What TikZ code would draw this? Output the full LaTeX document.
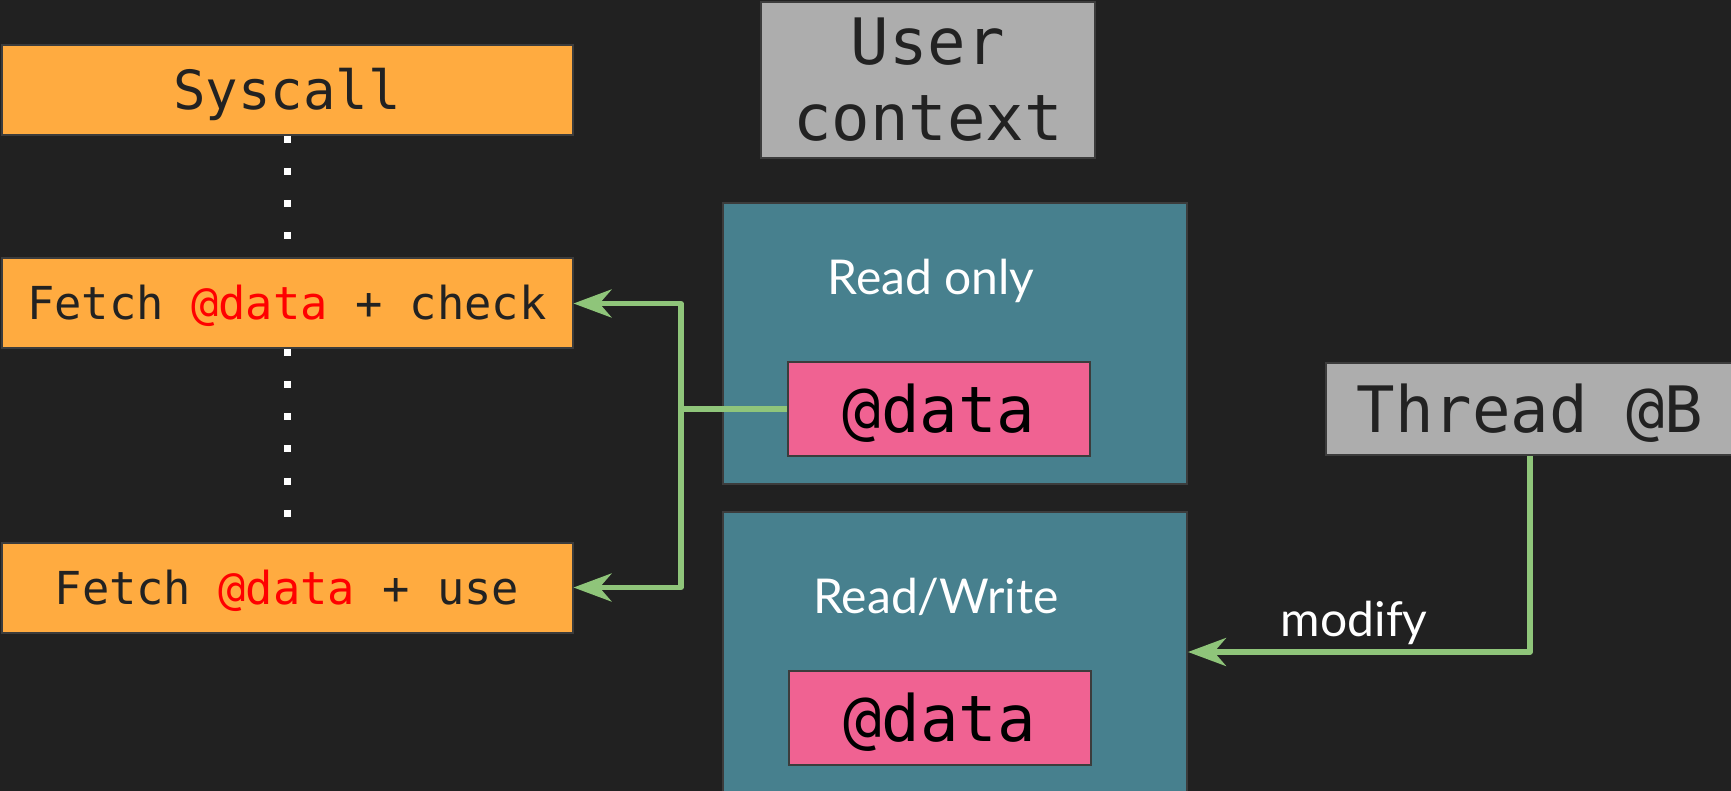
\documentclass[tikz,border=0pt]{standalone}
\usepackage{fontspec}
\setmainfont{Lato}
\newfontfamily\codefont{DejaVu Sans Mono}
\usetikzlibrary{arrows.meta}

\definecolor{bg}{HTML}{212121}
\definecolor{edge}{HTML}{3C3C3C}
\definecolor{ink}{HTML}{222222}
\definecolor{syscol}{HTML}{FFAB40}
\definecolor{ctxcol}{HTML}{ADADAD}
\definecolor{memcol}{HTML}{47808E}
\definecolor{varcol}{HTML}{F06292}
\definecolor{flow}{HTML}{8FC57A}
\definecolor{hot}{HTML}{FF0000}

\tikzset{
  box/.style={draw=edge, line width=1pt, inner sep=0pt, text=ink},
  callbox/.style={box, fill=syscol, minimum width=285.5pt, minimum height=45pt},
  smallcode/.style={font=\codefont\fontsize{22.7}{27}\selectfont, text height=16.5pt, text depth=0pt},
  bigcode/.style={font=\codefont\fontsize{32}{38}\selectfont, text height=23.3pt, text depth=0pt},
  ctxbox/.style={box, fill=ctxcol},
  membox/.style={box, fill=memcol, minimum width=232pt, minimum height=140pt},
  varbox/.style={box, fill=varcol, text=black, minimum width=151pt, minimum height=47pt, bigcode},
  labelfont/.style={text=white, font=\fontsize{24}{29}\selectfont},
  memlabel/.style={labelfont, anchor=base},
  dots/.style={draw=white, line width=3.5pt, dash pattern=on 3.5pt off 12.5pt, shorten >=2pt},
  wire/.style={draw=flow, line width=2.6pt, line join=round},
  flowline/.style={wire, -{Stealth[length=19pt, width=14pt, inset=6pt]}},
}

\begin{document}
\begin{tikzpicture}[x=0.5pt, y=-0.5pt]
  \fill[bg] (0,0) rectangle (1731,791);
  \useasboundingbox (0,0) rectangle (1731,791);

  % kernel side: the syscall and its two fetches
  \node[callbox, smallcode, font=\codefont\fontsize{27}{32}\selectfont, text height=19.7pt] (sys) at (287,90) {Syscall};
  \node[callbox, smallcode] (chk) at (287,303.5) {Fetch \textcolor{hot}{@data} + check};
  \node[callbox, smallcode] (use) at (287,587.5) {Fetch \textcolor{hot}{@data} + use};

  \draw[dots] (sys.south) -- (chk.north);
  \draw[dots] (chk.south) -- (use.north);

  % user memory
  \node[ctxbox, minimum width=167pt, minimum height=78pt, align=center,
        font=\codefont\fontsize{32}{38}\selectfont] (ctx) at (928,80) {User\\context};

  \node[membox] (ro) at (955,343.5) {};
  \node[memlabel] (rolabel) at (931,295) {Read only};
  \node[varbox] (d1) at (939,409) {@data};

  \node[membox] (rw) at (955,652) {};
  \node[memlabel] (rwlabel) at (936,613) {Read/Write};
  \node[varbox] (d2) at (939.5,718) {@data};

  % the other thread
  \node[ctxbox, bigcode, minimum width=204pt, minimum height=46pt] (thr) at (1530,409) {Thread @B};

  % data flow
  \coordinate (j) at (681,409);
  \draw[wire] (d1.west) -- (j);
  \draw[flowline] (j) |- (chk.east);
  \draw[flowline] (j) |- (use.east);
  \draw[flowline] (thr.south) |- (rw.east)
    node[pos=0.757, anchor=base, yshift=8pt, labelfont] {modify};
\end{tikzpicture}
\end{document}
